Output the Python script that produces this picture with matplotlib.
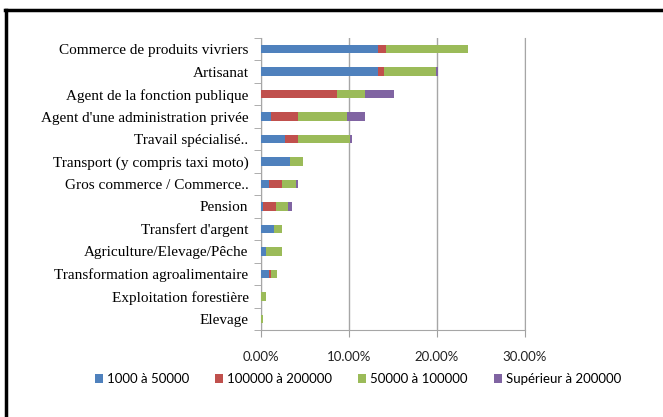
import numpy as np
import matplotlib.pyplot as plt
from matplotlib.lines import Line2D
from matplotlib.patches import Patch

categories = ["Commerce de produits vivriers", "Artisanat", "Agent de la fonction publique",
              "Agent d'une administration privée", "Travail spécialisé..",
              "Transport (y compris taxi moto)", "Gros commerce / Commerce..",
              "Pension", "Transfert d'argent", "Agriculture/Elevage/Pêche",
              "Transformation agroalimentaire", "Exploitation forestière", "Elevage"]

s_1000_50000 = [13.28, 13.28, 0.0, 1.18, 2.71, 3.28, 0.92, 0.27, 1.53, 0.61, 0.92, 0.0, 0.0]
s_100000_200000 = [0.92, 0.65, 8.59, 2.98, 1.45, 0.0, 1.49, 1.49, 0.0, 0.0, 0.27, 0.0, 0.0]
s_50000_100000 = [9.35, 5.92, 3.24, 5.61, 5.92, 1.49, 1.53, 1.26, 0.88, 1.79, 0.61, 0.61, 0.27]
s_sup_200000 = [0.0, 0.23, 3.24, 2.06, 0.23, 0.0, 0.23, 0.53, 0.0, 0.0, 0.0, 0.0, 0.0]

series = [s_1000_50000, s_100000_200000, s_50000_100000, s_sup_200000]
labels = ["1000 à 50000", "100000 à 200000", "50000 à 100000", "Supérieur à 200000"]
colors = ["#4F81BD", "#C0504D", "#9BBB59", "#8064A2"]

fig = plt.figure(figsize=(6.63, 4.17), dpi=100)
ax = fig.add_axes([261 / 663, 87 / 417, 264 / 663, 292 / 417])

y = np.arange(len(categories))
left = np.zeros(len(categories))
for vals, c in zip(series, colors):
    v = np.array(vals)
    ax.barh(y, v, left=left, height=0.38, color=c, zorder=3)
    left += v

ax.set_xlim(0, 30)
ax.set_ylim(len(categories) - 0.5, -0.5)
ax.set_xticks([0, 10, 20, 30])
ax.set_xticklabels(["0.00%", "10.00%", "20.00%", "30.00%"], family="Lato", fontsize=9.5, color="#222222")
ax.tick_params(axis="x", length=5, color="#a0a0a0", pad=10)
ax.set_yticks(y)
ax.set_yticklabels(categories, family="Liberation Serif", fontsize=11)
ax.tick_params(axis="y", length=0, pad=9)
ax.set_yticks(np.arange(len(categories) + 1) - 0.5, minor=True)
ax.tick_params(axis="y", which="minor", length=5, color="#a0a0a0")

ax.grid(axis="x", color="#a6a6a6", linewidth=1, zorder=0)
ax.set_axisbelow(True)
for s in ["left", "bottom", "right"]:
    ax.spines[s].set_color("#a6a6a6")
ax.spines["top"].set_visible(False)

handles = [Patch(facecolor=c) for c in colors]
fig.legend(handles, labels, loc="center", bbox_to_anchor=(358 / 663, 38 / 417), ncol=4,
           frameon=False, prop={"family": "Lato", "size": 9.5},
           handlelength=0.6, handleheight=0.6, handletextpad=0.3, columnspacing=2.0)

# outer frame (top and left only)
fig.add_artist(Line2D([0.008, 1], [407 / 417, 407 / 417], color="black", linewidth=2.5))
fig.add_artist(Line2D([6 / 663, 6 / 663], [0, 407 / 417], color="black", linewidth=2.5))

fig.savefig("out.png", dpi=100)
